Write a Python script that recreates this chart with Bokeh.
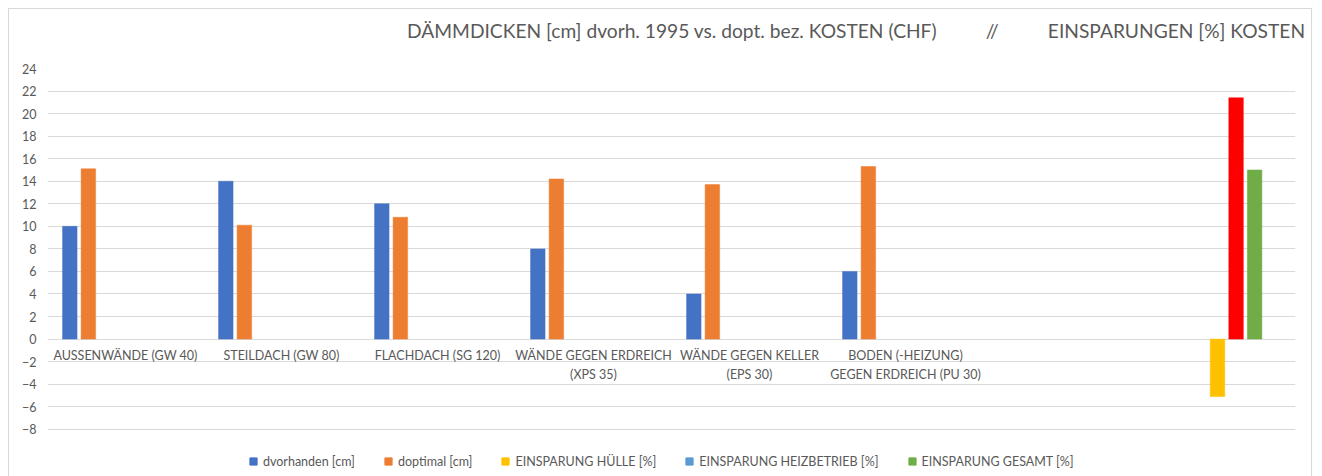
from bokeh.plotting import figure
from bokeh.models import Range1d, FixedTicker, ColumnDataSource, Legend, LegendItem
from bokeh.core.properties import value
from bokeh.embed import file_html
from bokeh.resources import INLINE

# ---- data ----
categories = ["AUSSENWÄNDE (GW 40)", "STEILDACH (GW 80)", "FLACHDACH (SG 120)",
              "WÄNDE GEGEN ERDREICH\n(XPS 35)", "WÄNDE GEGEN KELLER\n(EPS 30)",
              "BODEN (-HEIZUNG)\nGEGEN ERDREICH (PU 30)", "", ""]
dvorhanden = [10, 14, 12, 8, 4, 6, None, None]
doptimal = [15.1, 10.1, 10.8, 14.2, 13.7, 15.3, None, None]
einsparung_huelle = [None, None, None, None, None, None, None, -5.1]
einsparung_heizbetrieb = [None, None, None, None, None, None, None, 21.4]
einsparung_gesamt = [None, None, None, None, None, None, None, 15.0]
series_names = ["dvorhanden [cm]", "doptimal [cm]", "EINSPARUNG HÜLLE [%]",
                "EINSPARUNG HEIZBETRIEB [%]", "EINSPARUNG GESAMT [%]"]
series_colors = ["#4472C4", "#ED7D31", "#FFC000", "#5B9BD5", "#70AD47"]
heizbetrieb_point_color = "#FF0000"
y_ticks = list(range(-8, 25, 2))
title_text = ("DÄMMDICKEN [cm] dvorh. 1995 vs. dopt. bez. KOSTEN (CHF)"
              + "\u00a0" * 10 + "//" + "\u00a0" * 10 + "EINSPARUNGEN [%] KOSTEN")

FONT = "Lato"
GREY = "#595959"

series_values = [dvorhanden, doptimal, einsparung_huelle, einsparung_heizbetrieb, einsparung_gesamt]
series_slots = [-3, -2, 0, 1, 2]
slot_w = 0.119
bar_w = 0.093

# frame: top at value 24, gridline -8 is 359 px lower; frame extends below for the legend
frame_top_px, frame_bottom_px = 59, 466
y_top = 24
y_bottom = y_top - (frame_bottom_px - frame_top_px) * 32 / 359

p = figure(width=1304, height=470, output_backend="svg", toolbar_location=None,
           x_range=Range1d(0, len(categories)), y_range=Range1d(y_bottom, y_top),
           x_axis_type=None, min_border_left=38, min_border_right=18,
           min_border_top=frame_top_px, min_border_bottom=468 - frame_bottom_px,
           styles={"border": "1px solid #D9D9D9", "margin-left": "8px",
                   "margin-top": "8px", "box-sizing": "border-box"})
p.outline_line_color = None
p.xgrid.visible = False
p.ygrid.grid_line_color = "#D9D9D9"
p.ygrid.grid_line_width = 1
p.yaxis.ticker = FixedTicker(ticks=y_ticks)
p.yaxis.axis_line_color = None
p.yaxis.major_tick_line_color = None
p.yaxis.minor_tick_line_color = None
p.yaxis.major_tick_out = 0
p.yaxis.major_tick_in = 0
p.yaxis.minor_tick_out = 0
p.yaxis.major_label_text_font = FONT
p.yaxis.major_label_text_font_size = "12.5px"
p.yaxis.major_label_text_color = GREY
p.yaxis.major_label_standoff = 11

# an empty second line lifts the title line to the chart's top edge
p.title.text = title_text + "\n\u00a0"
p.title.align = "right"
p.title.text_font = FONT
p.title.text_font_size = "19.2px"
p.title.text_font_style = "normal"
p.title.text_color = GREY
p.title.standoff = 8
p.title.offset = -10

legend_renderers = []
for name, vals, slot, col in zip(series_names, series_values, series_slots, series_colors):
    xs, tops, cols = [], [], []
    for i, v in enumerate(vals):
        if v is None:
            continue
        xs.append(i + 0.5 + slot * slot_w)
        tops.append(v)
        cols.append(heizbetrieb_point_color if vals is einsparung_heizbetrieb else col)
    src = ColumnDataSource(dict(x=xs, top=tops, color=cols))
    p.vbar(x="x", top="top", bottom=0, width=bar_w, fill_color="color",
           line_color="color", line_width=0.5, source=src)
    # legend swatch (zero-size marker on the same data, series colour)
    r = p.scatter(x="x", y="top", size=0, marker="square", fill_color=col,
                  line_color=col, source=src)
    legend_renderers.append(r)

# category labels on the zero line
lab_src = ColumnDataSource(dict(x=[i + 0.5 for i in range(len(categories))],
                                y=[0] * len(categories), text=categories))
p.text(x="x", y="y", text="text", source=lab_src, text_align="center",
       text_baseline="top", y_offset=9, text_font=value(FONT),
       text_font_size="12.5px", text_color=GREY, text_line_height=1.25)

items = [LegendItem(label=n, renderers=[r]) for n, r in zip(series_names, legend_renderers)]
legend = Legend(items=items, orientation="horizontal", location=(197, 7),
                glyph_width=18, glyph_height=18, label_standoff=1, spacing=24,
                label_text_font=FONT, label_text_font_size="12.5px",
                label_text_color=GREY, border_line_color=None,
                background_fill_alpha=0, padding=2, margin=0)
p.add_layout(legend, "center")

open("out.html", "w").write(file_html(p, INLINE))
